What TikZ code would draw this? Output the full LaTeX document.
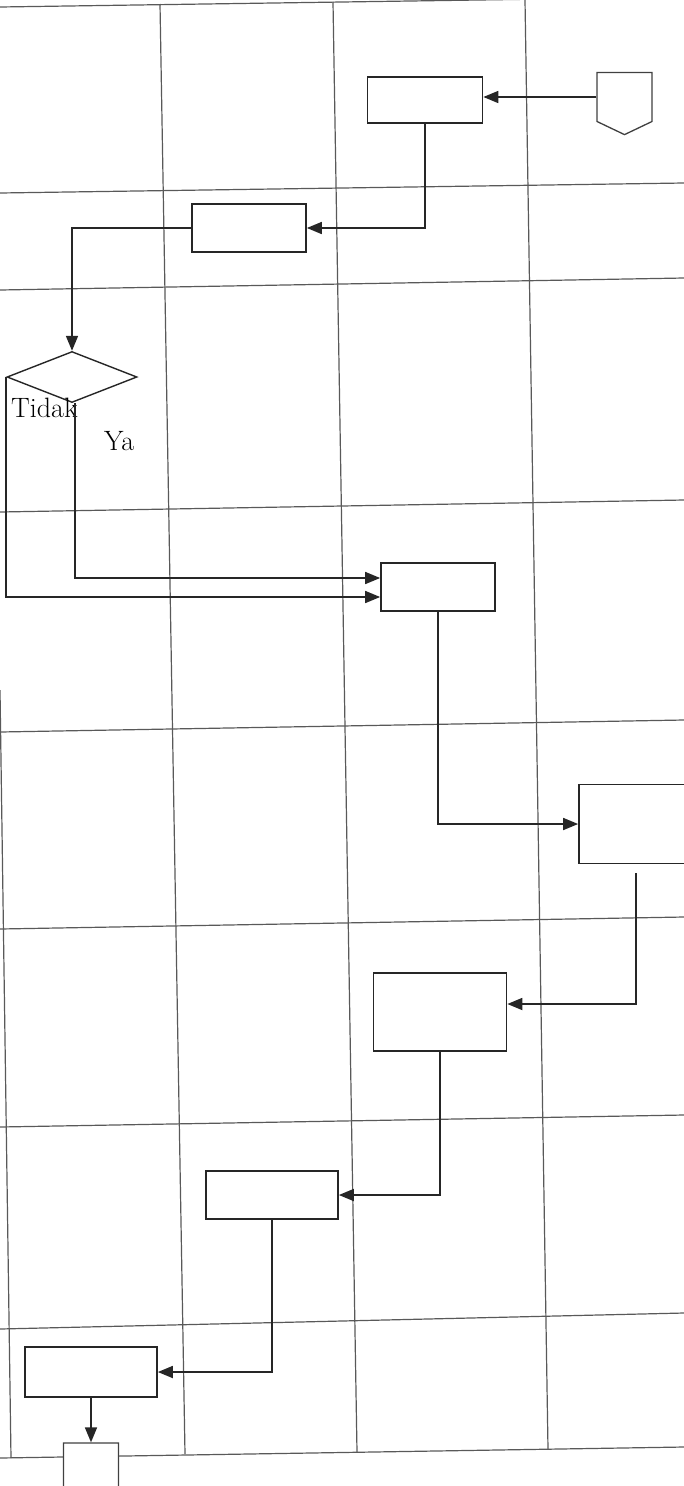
\documentclass[tikz,border=0pt]{standalone}
\usetikzlibrary{arrows.meta,shapes.geometric,shapes.symbols}
\tikzset{
    garis/.style={draw=black!65, line width=1.2pt},
    proses/.style n args={2}{rectangle, draw=black!85, fill=white, line width=1.7pt,
        inner sep=0pt, minimum width=#1pt, minimum height=#2pt},
    keputusan/.style={diamond, draw=black!85, fill=white, line width=1.4pt,
        inner sep=0pt, minimum width=130pt, minimum height=51pt},
    konektor/.style={signal, signal to=south, signal from=nowhere,
        signal pointer angle=129, draw=black!75, fill=white, line width=1.3pt,
        inner sep=0pt, minimum width=55pt, minimum height=49pt},
    panah/.style={draw=black!85, line width=1.7pt, -{Triangle[length=15pt,width=12pt]}},
    label/.style={inner sep=0pt, anchor=base west, font=\fontsize{28}{30}\selectfont}
}

\begin{document}
\begin{tikzpicture}[x=1pt, y=-1pt]
\useasboundingbox (0,0) rectangle (684,1486);
\clip (0,0) rectangle (684,1486);

% swimlane grid
\foreach \a/\b in {7/-3, 193/183, 290/278, 512/500, 732/720,
                   929/917, 1127/1115, 1329/1313, 1458/1447}
    \draw[garis] (0,\a) -- (684,\b);
\foreach \t/\s/\u/\v in {160/4/185/1454, 333/2/357/1452,
                         525/0/548/1449, 0/690/11/1458}
    \draw[garis] (\t,\s) -- (\u,\v);

% nodes
\node[konektor] (mulai) at (624.5,97) {};
\node[proses={115}{46}] (p1) at (425,100) {};
\node[proses={114}{48}] (p2) at (249,228) {};
\node[keputusan] (cek) at (72,377) {};
\node[proses={114}{48}] (p3) at (438,587) {};
\node[proses={114}{79}] (p4) at (636,824) {};
\node[proses={133}{78}] (p5) at (440,1012) {};
\node[proses={132}{48}] (p6) at (272,1195) {};
\node[proses={132}{50}] (p7) at (91,1372) {};
\node[konektor] (selesai) at (91,1467.5) {};

\node[label] (tidak) at (11,417) {Tidak};
\node[label] (ya) at (104,450) {Ya};

% connectors
\draw[panah] (mulai.west) -- (mulai.west -| p1.east);
\draw[panah] (p1.south) |- (p2.east);
\draw[panah] (p2.west) -| (cek.north);
\draw[panah] (cek.west) |- ([yshift=-10pt]p3.west);
\draw[panah] ([xshift=3pt]cek.south) |- ([yshift=9pt]p3.west);
\draw[panah] (p3.south) |- (p4.west);
\draw[panah] ([yshift=-9pt]p4.south) |- ([yshift=8pt]p5.east);
\draw[panah] (p5.south) |- (p6.east);
\draw[panah] (p6.south) |- (p7.east);
\draw[panah] (p7.south) -- (p7.south |- selesai.north);
\end{tikzpicture}
\end{document}
